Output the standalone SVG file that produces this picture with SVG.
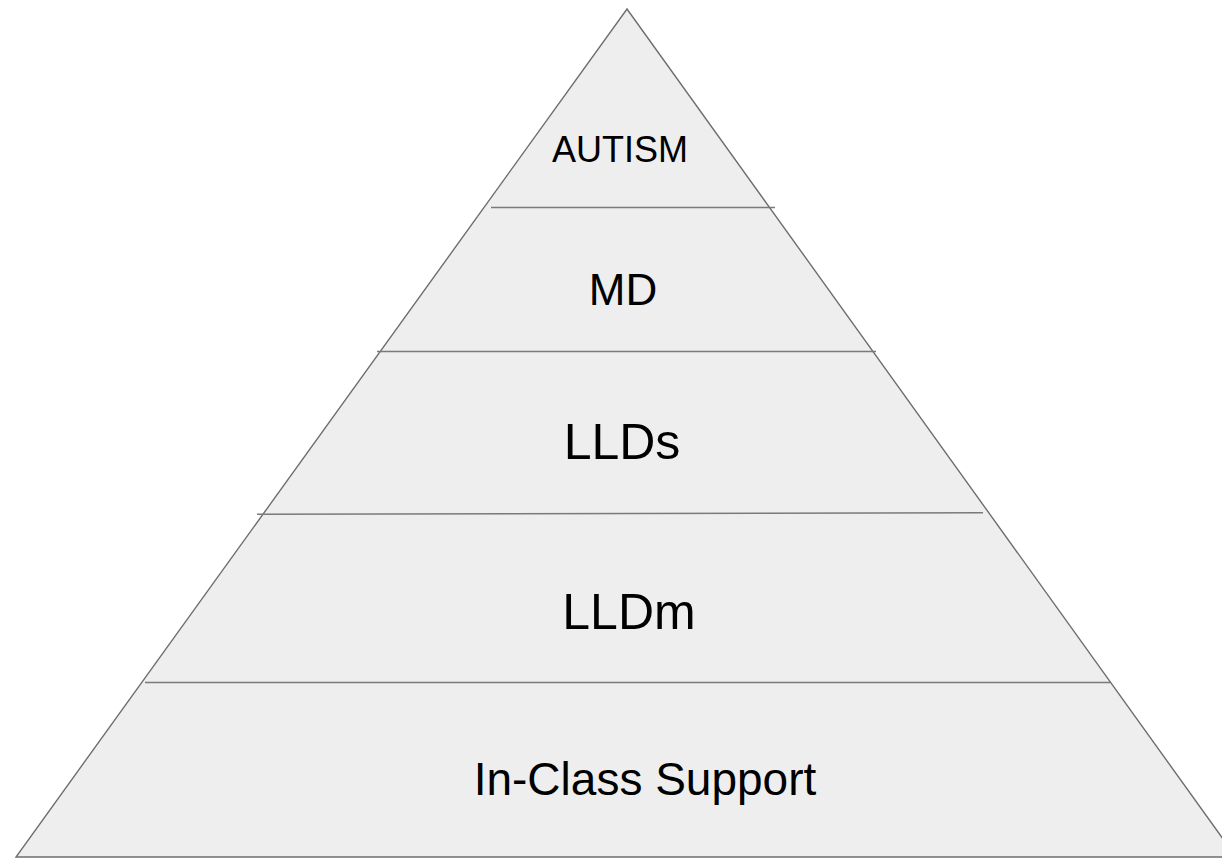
<svg xmlns="http://www.w3.org/2000/svg" width="1222" height="858" viewBox="0 0 1222 858">
  <style>
    .tri { fill: #eeeeee; stroke: #6e6e6e; stroke-width: 1.4; }
    .div { stroke: #7a7a7a; stroke-width: 1.6; fill: none; }
    .lbl { font-family: "Liberation Sans", Arial, sans-serif; fill: #000000; text-anchor: middle; }
  </style>
  <rect x="0" y="0" width="1222" height="858" fill="#ffffff"/>
  <g id="pyramid">
    <polygon class="tri" points="627,9 1236,857 16,857"/>
  </g>
  <g id="connectors">
    <line class="div" x1="491" y1="207.5" x2="775" y2="207.5"/>
    <line class="div" x1="377" y1="351.5" x2="876" y2="351.5"/>
    <line class="div" x1="257" y1="514.3" x2="983" y2="512.7"/>
    <line class="div" x1="145" y1="682.5" x2="1110" y2="682.5"/>
  </g>
  <g id="tier-autism">
    <text class="lbl" x="620" y="162" font-size="36">AUTISM</text>
  </g>
  <g id="tier-md">
    <text class="lbl" x="623" y="305" font-size="44">MD</text>
  </g>
  <g id="tier-llds">
    <text class="lbl" x="622" y="459" font-size="50">LLDs</text>
  </g>
  <g id="tier-lldm">
    <text class="lbl" x="629" y="629" font-size="50">LLDm</text>
  </g>
  <g id="tier-inclass">
    <text class="lbl" x="645" y="795" font-size="46">In-Class Support</text>
  </g>
</svg>
